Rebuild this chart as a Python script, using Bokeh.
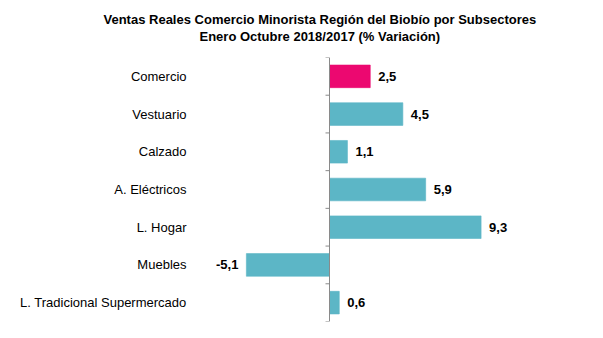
from bokeh.plotting import figure
from bokeh.models import ColumnDataSource, FactorRange, Range1d, Title
from bokeh.core.properties import value
from bokeh.embed import file_html
from bokeh.resources import INLINE

categories = ["Comercio", "Vestuario", "Calzado", "A. Eléctricos", "L. Hogar",
              "Muebles", "L. Tradicional Supermercado"]
values = [2.5, 4.5, 1.1, 5.9, 9.3, -5.1, 0.6]
title_lines = ["Ventas Reales Comercio Minorista Región del Biobío por Subsectores",
               "Enero Octubre 2018/2017  (% Variación)"]

FONT = "Liberation Sans"
TEAL = "#5cb6c6"
PINK = "#ec0870"

W, H = 603, 338
left, top, bottom = 194, 57, 17
px_per_unit = 16.3
zero_px = 329
x_start = -(zero_px - left) / px_per_unit
x_end = x_start + (W - left) / px_per_unit

colors = [PINK if c == "Comercio" else TEAL for c in categories]
labels = [f"{v:.1f}".replace(".", ",") for v in values]

src = ColumnDataSource(dict(cat=categories, val=values, color=colors, lab=labels))
pos = ColumnDataSource(dict(cat=[c for c, v in zip(categories, values) if v >= 0],
                            val=[v for v in values if v >= 0],
                            lab=[l for l, v in zip(labels, values) if v >= 0]))
neg = ColumnDataSource(dict(cat=[c for c, v in zip(categories, values) if v < 0],
                            val=[v for v in values if v < 0],
                            lab=[l for l, v in zip(labels, values) if v < 0]))

p = figure(width=W, height=H, output_backend="svg", toolbar_location=None,
           y_range=FactorRange(*reversed(categories)),
           x_range=Range1d(x_start, x_end),
           min_border_left=left, min_border_top=top, min_border_bottom=bottom,
           min_border_right=0)
p.outline_line_color = None
p.xaxis.visible = False
p.xgrid.visible = False
p.ygrid.visible = False
p.yaxis.axis_line_color = None
p.yaxis.major_tick_line_color = None
p.yaxis.minor_tick_line_color = None
p.yaxis.major_tick_out = 0
p.yaxis.major_tick_in = 0
p.yaxis.major_label_standoff = 8
p.yaxis.major_label_text_font = FONT
p.yaxis.major_label_text_font_size = "13px"
p.yaxis.major_label_text_color = "#000000"

p.hbar(y="cat", right="val", left=0, height=0.6, source=src,
       fill_color="color", line_color="color", line_alpha=0.6)

# zero axis line and boundary ticks
n = len(categories)
p.segment(x0=[0], y0=[0], x1=[0], y1=[n], line_color="#8a8a8a", line_width=1)
tick_len = 4 / px_per_unit
p.segment(x0=[0] * (n + 1), y0=list(range(n + 1)), x1=[-tick_len] * (n + 1),
          y1=list(range(n + 1)), line_color="#8a8a8a", line_width=1)

p.text(x="val", y="cat", text="lab", source=pos, x_offset=8,
       text_align="left", text_baseline="middle", text_font=value(FONT),
       text_font_style="bold", text_font_size="13px", text_color="#000000")
p.text(x="val", y="cat", text="lab", source=neg, x_offset=-8,
       text_align="right", text_baseline="middle", text_font=value(FONT),
       text_font_style="bold", text_font_size="13px", text_color="#000000")

# spacer between the frame and the title block (first added sits nearest the frame)
p.add_layout(Title(text=" ", text_font_size="1px", standoff=11), "above")
title_left_px = [103, 199]
for line, lx in reversed(list(zip(title_lines, title_left_px))):
    p.add_layout(Title(text=line, align="left", offset=lx - left,
                       text_font=FONT, text_font_style="bold",
                       text_font_size="13px", text_color="#000000",
                       standoff=0), "above")

open("out.html", "w").write(file_html(p, INLINE))
